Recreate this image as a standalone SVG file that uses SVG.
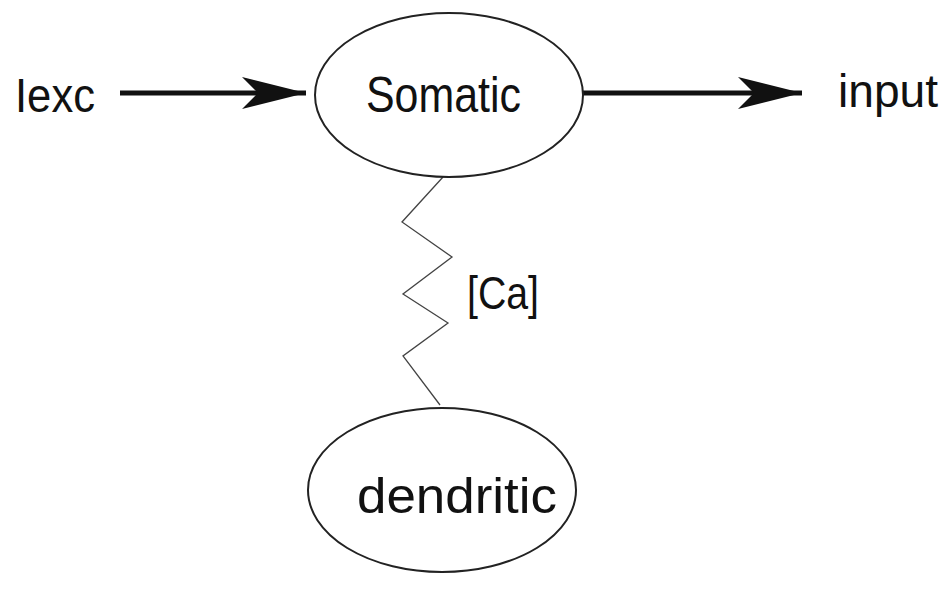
<svg xmlns="http://www.w3.org/2000/svg" width="951" height="595" viewBox="0 0 951 595">
<style>
.node{fill:#fff;stroke:#222;stroke-width:2}
.lbl{font-family:"Liberation Sans",Arial,sans-serif;fill:#111}
.arrow{stroke:#111;stroke-width:5;fill:none}
.spring{stroke:#444;stroke-width:1.3;fill:none}
</style>
<defs>
<marker id="ah" markerUnits="userSpaceOnUse" markerWidth="70" markerHeight="40" refX="64" refY="16" orient="auto">
<path d="M0,0 L64,16 L0,32 L16,16 Z" fill="#111"/>
</marker>
</defs>
<rect width="951" height="595" fill="#fff"/>
<g id="connectors">
<line class="arrow" x1="120" y1="93" x2="306" y2="93" marker-end="url(#ah)"/>
<line class="arrow" x1="583" y1="93" x2="802" y2="93" marker-end="url(#ah)"/>
<polyline class="spring" points="443,177 402,222 452,257 403,294 448,323 403,356 440,405"/>
</g>
<g id="somatic">
<ellipse class="node" cx="449" cy="95" rx="134" ry="82"/>
<text class="lbl" x="366" y="112" font-size="50" textLength="155" lengthAdjust="spacingAndGlyphs">Somatic</text>
</g>
<g id="dendritic">
<ellipse class="node" cx="442" cy="490" rx="134" ry="82"/>
<text class="lbl" x="357" y="513" font-size="50" textLength="200" lengthAdjust="spacingAndGlyphs">dendritic</text>
</g>
<g id="iexc">
<text class="lbl" x="15" y="112" font-size="49" textLength="80" lengthAdjust="spacingAndGlyphs">Iexc</text>
</g>
<g id="input">
<text class="lbl" x="838" y="107" font-size="47" textLength="100" lengthAdjust="spacingAndGlyphs">input</text>
</g>
<g id="ca">
<text class="lbl" x="467" y="309" font-size="47" textLength="72" lengthAdjust="spacingAndGlyphs">[Ca]</text>
</g>
</svg>
